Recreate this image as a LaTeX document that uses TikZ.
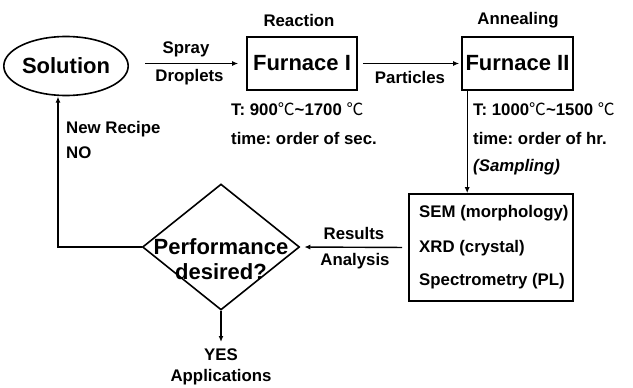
\documentclass[tikz,border=0pt]{standalone}
\usepackage{fontspec}
\setmainfont{Liberation Sans}
\newfontfamily\cjk{Noto Sans CJK SC}
\usetikzlibrary{shapes.geometric,arrows.meta,calc}
\newcommand{\degc}{{\cjk\mdseries ℃}}
\frenchspacing
\tikzset{
  lbl/.style={inner sep=0pt,font=\fontsize{16.8}{19}\selectfont\bfseries},
  big/.style={inner sep=0pt,font=\fontsize{22}{24}\selectfont\bfseries},
  box/.style={draw,line width=1.6pt,inner sep=0pt},
  arr/.style={line width=1.4pt,-{Latex[length=6pt,width=5pt]}},
  ln/.style={line width=1.4pt}
}
\begin{document}
\begin{tikzpicture}[x=1pt,y=-1pt]
\useasboundingbox (0,0) rectangle (633,388);
% main shapes
\node[box,ellipse,minimum width=112pt,minimum height=59pt,big] (sol) at (66,66) {Solution};
\node[box,rectangle,minimum width=110pt,minimum height=53pt,big] (f1) at (302,63.5) {Furnace I};
\node[box,rectangle,minimum width=111pt,minimum height=53pt,big] (f2) at (517.5,63.5) {Furnace II};
\node[box,rectangle,minimum width=164pt,minimum height=107pt] (sem) at (491,247.5) {};
\node[box,diamond,minimum width=157pt,minimum height=126pt] (dia) at (221,247) {};
\node[big,align=center,font=\fontsize{22}{25}\selectfont\bfseries] (diat) at (221,259) {Performance\\desired?};
% labels
\node[lbl] (react) at (299,20) {Reaction};
\node[lbl] (anneal) at (518,20) {Annealing};
\node[lbl] (spray) at (186,49) {Spray};
\node[lbl] (drop) at (189.5,77) {Droplets};
\node[lbl] (part) at (410,77) {Particles};
\node[lbl,anchor=base west] (t1) at (231,115) {T: 900\degc\textasciitilde1700 \degc};
\node[lbl,anchor=base west] (tm1) at (231,144) {time: order of sec.};
\node[lbl,anchor=base west] (t2) at (473,115) {T: 1000\degc\textasciitilde1500 \degc};
\node[lbl,anchor=base west] (tm2) at (473,144) {time: order of hr.};
\node[lbl,anchor=base west] (samp) at (473,171) {\itshape (Sampling)};
\node[lbl,anchor=base west] (recipe) at (66,133) {New Recipe};
\node[lbl,anchor=base west] (no) at (66,158) {NO};
\node[lbl,anchor=west] (sem1) at (419,213) {SEM (morphology)};
\node[lbl,anchor=west] (sem2) at (419,248) {XRD (crystal)};
\node[lbl,anchor=west] (sem3) at (419,281) {Spectrometry (PL)};
\node[lbl] (res) at (354,233) {Results};
\node[lbl] (ana) at (355,261) {Analysis};
\node[lbl] (yes) at (221,355) {YES};
\node[lbl] (app) at (221,377) {Applications};
% connectors
\draw[arr,shorten <=16pt,shorten >=8pt] (sol.east |- f1.west) -- (f1.west);
\draw[arr,shorten <=5pt,shorten >=2pt] (f1.east) -- (f2.west);
\coordinate (down) at ($(f2.south west)+(6,0)$);
\draw[arr] (down) -- (down |- sem.north);
\draw[arr,shorten <=6pt,shorten >=4pt] (sem.west) -- (dia.east);
\coordinate (yesend) at (221,342);
\draw[arr] (dia.south) -- (yesend);
\coordinate (solb) at ($(sol.south)+(-8,0.3)$);
\draw[arr] (dia.west) -| (solb);
\end{tikzpicture}
\end{document}
